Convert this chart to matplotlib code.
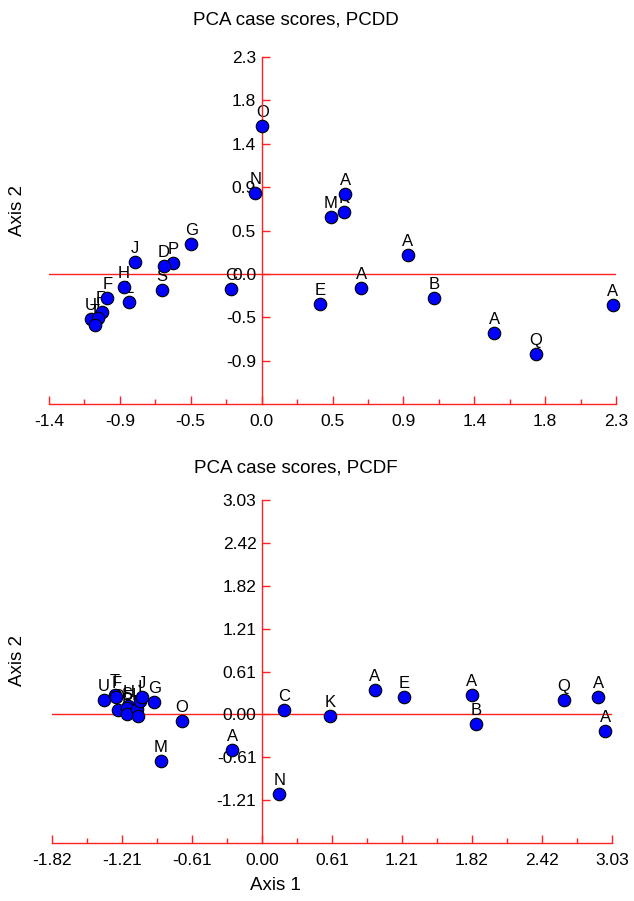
import matplotlib
matplotlib.use("Agg")
import matplotlib.pyplot as plt
import numpy as np

plt.rcParams['font.family'] = ['Liberation Sans', 'DejaVu Sans']

# ---------------- data ----------------
top_title = "PCA case scores, PCDD"
top_step = 0.4575
top_xticklabels = ['-1.4', '-0.9', '-0.5', '0.0', '0.5', '0.9', '1.4', '1.8', '2.3']
top_yticklabels = ['-0.9', '-0.5', '0.0', '0.5', '0.9', '1.4', '1.8', '2.3']
top_labels = ['O', 'N', 'A', 'K', 'M', 'A', 'A', 'E', 'C', 'B', 'A', 'Q', 'A',
              'G', 'P', 'D', 'S', 'J', 'H', 'L', 'F', 'R', 'U', 'I', 'T']
top_x = [0.004, -0.04, 0.54, 0.53, 0.445, 0.943, 0.643, 0.377, -0.197, 1.114, 1.502, 1.772, 2.265,
         -0.453, -0.573, -0.631, -0.646, -0.815, -0.888, -0.856, -0.995, -1.030, -1.104, -1.055, -1.075]
top_y = [1.56, 0.85, 0.84, 0.65, 0.60, 0.20, -0.15, -0.315, -0.157, -0.255, -0.62, -0.85, -0.33,
         0.31, 0.11, 0.084, -0.175, 0.13, -0.14, -0.30, -0.25, -0.40, -0.48, -0.465, -0.543]

bot_title = "PCA case scores, PCDF"
bot_step = 0.606
bot_xticklabels = ['-1.82', '-1.21', '-0.61', '0.00', '0.61', '1.21', '1.82', '2.42', '3.03']
bot_yticklabels = ['-1.21', '-0.61', '0.00', '0.61', '1.21', '1.82', '2.42', '3.03']
bot_labels = ['A', 'A', 'A', 'A', 'A', 'B', 'C', 'E', 'G', 'K', 'M', 'N', 'O', 'Q',
              'U', 'T', 'F', 'D', 'H', 'S', 'P', 'L', 'R', 'I', 'J']
bot_x = [-0.257, 0.978, 1.815, 2.912, 2.970, 1.853, 0.19, 1.229, -0.932, 0.586, -0.877, 0.15, -0.695, 2.615,
         -1.368, -1.273, -1.26, -1.244, -1.158, -1.17, -1.171, -1.085, -1.071, -1.06, -1.042]
bot_y = [-0.51, 0.34, 0.279, 0.245, -0.236, -0.13, 0.057, 0.24, 0.174, -0.028, -0.666, -1.12, -0.095, 0.208,
         0.208, 0.269, 0.25, 0.067, 0.113, 0.09, 0.010, 0.081, -0.028, 0.19, 0.245]

x_label = "Axis 1"
y_label = "Axis 2"

# ---------------- figure ----------------
W, H = 634, 901
fig = plt.figure(figsize=(W / 100, H / 100), dpi=100)
RED = '#ff2020'


def make_panel(rect, step, xtl, ytl, xs, ys, labels):
    ax = fig.add_axes(rect)
    ax.set_xlim(-3 * step, 5 * step)
    ax.set_ylim(-3 * step, 5 * step)
    for s in ['top', 'right']:
        ax.spines[s].set_visible(False)
    ax.spines['left'].set_position(('data', 0))
    for s in ['left', 'bottom']:
        ax.spines[s].set_color(RED)
        ax.spines[s].set_linewidth(1.0)
    ax.axhline(0, color=RED, lw=1.0, zorder=1)
    ax.set_xticks([step * k for k in range(-3, 6)])
    ax.set_xticklabels(xtl)
    ax.set_xticks([step * (k + 0.5) for k in range(-3, 5)], minor=True)
    ax.set_yticks([step * k for k in range(-2, 6)])
    ax.set_yticklabels(ytl)
    ax.tick_params(axis='x', which='major', direction='in', length=6, width=1.0,
                   color=RED, labelsize=12.5, pad=7)
    ax.tick_params(axis='x', which='minor', direction='in', length=3.5, width=1.0, color=RED)
    ax.tick_params(axis='y', which='major', direction='in', length=6, width=1.0,
                   color=RED, labelsize=12.5, pad=4)
    ax.tick_params(axis='y', which='minor', left=False)
    ax.patch.set_alpha(0)
    for x, y, lab in zip(xs, ys, labels):
        ax.annotate(lab, (x, y), xytext=(0, 6.5), textcoords='offset points',
                    ha='center', va='baseline', fontsize=12, color='black', zorder=2)
    ax.plot(xs, ys, linestyle='none', marker='o', markersize=9,
            markerfacecolor='#0000ff', markeredgecolor='black', markeredgewidth=0.8, zorder=3,
            clip_on=False)
    return ax


ax1 = make_panel([49 / W, 1 - 404 / H, 567 / W, 347 / H], top_step,
                 top_xticklabels, top_yticklabels, top_x, top_y, top_labels)
ax2 = make_panel([52 / W, 1 - 843 / H, 560 / W, 343 / H], bot_step,
                 bot_xticklabels, bot_yticklabels, bot_x, bot_y, bot_labels)

fig.text(296 / W, 1 - 20 / H, top_title, ha='center', va='center', fontsize=13.5)
fig.text(296 / W, 1 - 468 / H, bot_title, ha='center', va='center', fontsize=13.5)
fig.text(18 / W, 1 - 210 / H, y_label, ha='center', va='center', rotation=90, fontsize=13.5)
fig.text(18 / W, 1 - 660 / H, y_label, ha='center', va='center', rotation=90, fontsize=13.5)
fig.text(275 / W, 1 - 885 / H, x_label, ha='center', va='center', fontsize=13.5)

fig.savefig('out.png', dpi=100, facecolor='white')
